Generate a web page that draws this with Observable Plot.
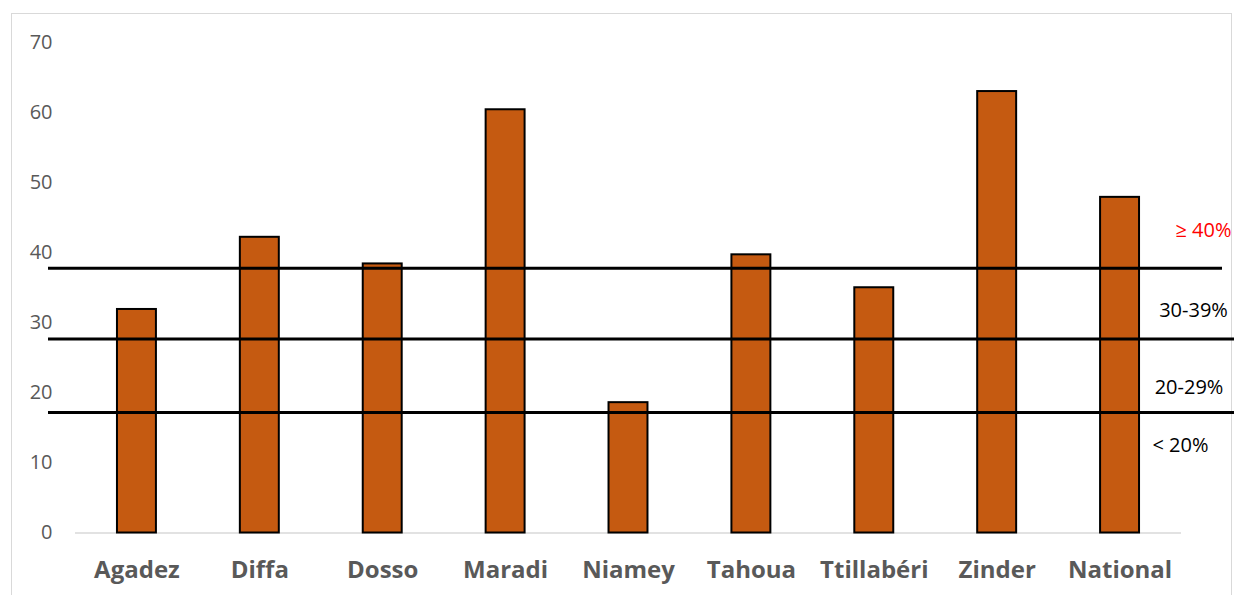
<!DOCTYPE html>
<html>
<head>
<meta charset="utf-8">
<script src="https://cdn.jsdelivr.net/npm/d3@7"></script>
<script src="https://cdn.jsdelivr.net/npm/@observablehq/plot@0.6"></script>
<style>
  html, body { margin: 0; padding: 0; background: #fff; }
  #wrap { position: relative; width: 1234px; height: 595px; overflow: hidden; }
  #border { position: absolute; left: 11px; top: 13px; width: 1221px; height: 600px;
            border: 1.5px solid #d9d9d9; box-sizing: border-box; }
  #chart { position: absolute; left: 0; top: 0; }
  #chart svg { font-family: "Open Sans", sans-serif; }
</style>
</head>
<body>
<div id="wrap">
  <div id="border"></div>
  <div id="chart"></div>
</div>
<script>
// Share (%) by region
const regions = ["Agadez", "Diffa", "Dosso", "Maradi", "Niamey", "Tahoua", "Ttillabéri", "Zinder", "National"];
const values = [31.9, 42.2, 38.4, 60.4, 18.6, 39.7, 35.0, 63.0, 47.9];

// Class boundary lines and their class labels
const thresholds = [37.8, 27.7, 17.2];
const classLabels = ["≥ 40%", "30-39%", "20-29%", "< 20%"];
const classLabelY = [43.2, 31.8, 20.7, 12.5];

const yTicks = [0, 10, 20, 30, 40, 50, 60, 70];

const data = regions.map((r, i) => ({region: r, value: values[i]}));

// Horizontal offsets and colours for the class labels at the right edge
const labelDx = [22, 12, 7.5, -1];
const labelFill = ["#ff0000", "#000", "#000", "#000"];

const plot = Plot.plot({
  width: 1234,
  height: 595,
  marginLeft: 75,
  marginRight: 53,
  marginTop: 42,
  marginBottom: 62.5,
  style: {background: "transparent", overflow: "visible"},
  x: {domain: regions, paddingInner: 0.683, paddingOuter: 0.3415, round: false, label: null},
  y: {domain: [0, 70], ticks: yTicks, label: null},
  marks: [
    Plot.axisY({ticks: yTicks, tickSize: 0, tickPadding: 23, fontSize: 20, color: "#595959", label: null}),
    Plot.axisX({tickSize: 0, tickPadding: 28, fontSize: 24, fontWeight: "bold", color: "#595959", label: null}),
    Plot.ruleY([0], {stroke: "#d9d9d9", strokeWidth: 1.5}),
    Plot.barY(data, {x: "region", y: "value", fill: "#c55a11", stroke: "#000", strokeWidth: 2}),
    Plot.ruleY([thresholds[0]], {stroke: "#000", strokeWidth: 3, insetLeft: -27, insetRight: -41}),
    Plot.ruleY(thresholds.slice(1), {stroke: "#000", strokeWidth: 3, insetLeft: -27, insetRight: -53}),
    ...classLabels.map((t, i) =>
      Plot.text([t], {
        text: d => d,
        y: [classLabelY[i]],
        frameAnchor: "right",
        textAnchor: "middle",
        dx: labelDx[i],
        fontSize: 20,
        fill: labelFill[i]
      })
    )
  ]
});

document.getElementById("chart").appendChild(plot);
</script>
</body>
</html>
